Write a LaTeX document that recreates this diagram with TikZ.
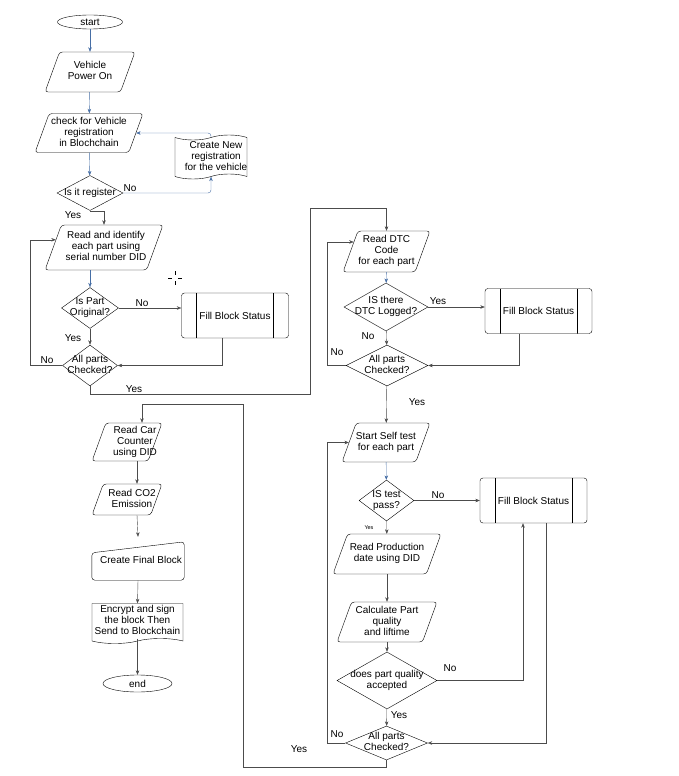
\documentclass[tikz,border=0pt]{standalone}
\usepackage{fontspec}
\setmainfont{Liberation Sans}
\usetikzlibrary{shapes.geometric,shapes.symbols,arrows.meta,calc}
\definecolor{flowblue}{RGB}{70,110,165}
% fixed size text, centred, may run over the shape
\newcommand{\ftext}[2][0pt]{\smash{\makebox[0pt]{\hspace{#1}\hspace{#1}\raisebox{-2.5pt}{\begin{tabular}{@{}c@{}}#2\end{tabular}}}}}
\begin{document}
\begin{tikzpicture}[x=1pt,y=-1pt,>={Stealth[length=4.5pt,width=3.5pt]},
  every node/.style={font=\fontsize{10}{11.2}\selectfont},
  term/.style={ellipse,draw,inner sep=0pt},
  io/.style={trapezium,trapezium left angle=70,trapezium right angle=110,
    trapezium stretches body,draw,rounded corners=3pt,inner sep=0pt,minimum height=#1,
    execute at begin node={\raisebox{-0.5\height}{\rule{0pt}{#1pt}}}},
  decision/.style={diamond,draw,inner sep=0pt},
  subproc/.style={draw,rounded corners=3pt,inner sep=0pt,minimum width=107,minimum height=45,
    path picture={\draw ([xshift=15pt]path picture bounding box.north west) -- ([xshift=15pt]path picture bounding box.south west);
      \draw ([xshift=-15pt]path picture bounding box.north east) -- ([xshift=-15pt]path picture bounding box.south east);}},
  flow/.style={->,draw=black!70},
  blueflow/.style={->,draw=flowblue},
  lbl/.style={inner sep=1pt}]
  \useasboundingbox (0,0) rectangle (679,776);
  % left column
  \draw (90,22) node[term,minimum width=65,minimum height=14] (start) {start};
  \draw (90,72) node[io=40,minimum width=90] (pwr) {\ftext{Vehicle\\Power On}};
  \draw (89,133) node[io=39,minimum width=108] (chk) {\ftext{check for Vehicle\\registration\\in Blochchain}};
  \draw (90,193) node[decision,minimum width=66,minimum height=35] (reg) {\ftext{Is it register}};
  \draw (211,157) node[tape,draw,inner sep=0pt,minimum width=72,minimum height=44] (newreg) {\ftext[5pt]{Create New\\registration\\for the vehicle}};
  \draw (104,247.5) node[io=45,minimum width=118] (rid) {\ftext[2pt]{Read and identify\\each part using\\serial number DID}};
  \draw (90,308) node[decision,minimum width=57,minimum height=41] (orig) {\ftext{Is Part\\Original?}};
  \draw (235,315.5) node[subproc] (fbs1) {Fill Block Status};
  \draw (90,365.5) node[decision,minimum width=55,minimum height=41] (all1) {\ftext{All parts\\Checked?}};
  % right column
  \draw (386.5,251.5) node[io=41,minimum width=87] (dtc) {\ftext{Read DTC\\Code\\for each part}};
  \draw (386,307) node[decision,minimum width=84,minimum height=48] (dtclog) {\ftext{IS there\\DTC Logged?}};
  \draw (538.5,311) node[subproc] (fbs2) {Fill Block Status};
  \draw (387,365.5) node[decision,minimum width=82,minimum height=41] (all2) {\ftext{All parts\\Checked?}};
  \draw (386,442.5) node[io=39,minimum width=88] (self) {\ftext{Start Self test\\for each part}};
  \draw (386.5,500.5) node[decision,minimum width=55,minimum height=41] (pass) {\ftext{IS test\\pass?}};
  \draw (533.5,500.5) node[subproc] (fbs3) {Fill Block Status};
  \draw (387,554) node[io=40,minimum width=108] (prod) {\ftext{Read Production\\date using DID}};
  \draw (387,622) node[io=40,minimum width=100] (calc) {\ftext{Calculate Part\\quality\\and liftime}};
  \draw (387,680.5) node[decision,minimum width=100,minimum height=57] (acc) {\ftext{does part quality\\accepted}};
  \draw (386.5,743) node[decision,minimum width=82,minimum height=34] (all3) {\ftext{All parts\\Checked?}};
  % bottom left column
  \draw (127,442) node[io=38,minimum width=70] (car) {\ftext[8pt]{Read Car\\Counter\\using DID}};
  \draw (127,499.5) node[io=31,minimum width=70] (co2) {\ftext[5pt]{Read CO2\\Emission}};
  \draw (138,561) node[minimum width=92,minimum height=38,inner sep=0pt] (fin) {\ftext[3pt]{Create Final Block}};
  \draw[rounded corners=3pt] ([yshift=-11pt]fin.north west) -- (fin.north east) -- (fin.south east) -- (fin.south west) -- cycle;
  \draw (137.5,621) node[tape,tape bend top=none,draw,inner sep=0pt,minimum width=91,minimum height=40] (enc) {\ftext{Encrypt and sign\\the block Then\\Send to Blockchain}};
  \draw (137.5,683.5) node[term,minimum width=69,minimum height=17] (end) {end};
  %
  % points on the slanted sides and bends
  \coordinate (ridin) at ($(rid.top left corner)!0.33!(rid.bottom left corner)$);
  \coordinate (dtcin) at ($(dtc.top left corner)!0.27!(dtc.bottom left corner)$);
  \coordinate (ya) at (310,394);
  \coordinate (yb) at (310,208);
  \coordinate (yc) at (243,767);
  \coordinate (yd) at (243,404);
  %
  % connectors, left
  \draw[blueflow] (start) -- (pwr);
  \draw[blueflow] (pwr) -- (chk);
  \draw[blueflow] (chk) -- (reg);
  \draw[blueflow,rounded corners=3pt] (reg.east) -| (newreg.south);
  \draw[blueflow,rounded corners=3pt] (newreg.north) |- (chk.right side);
  \draw[flow] (reg.south) -| (rid.north);
  \draw[blueflow] (rid.south -| orig.north) -- (orig.north);
  \draw[flow] (orig.east) -- (orig.east -| fbs1.west);
  \draw[flow] (orig) -- (all1);
  \draw[flow] ([xshift=-13pt]fbs1.south) |- (all1.east);
  \draw[flow] (all1.west) -- ++(-32,0) |- (ridin);
  \draw[flow] (all1.south) |- (ya) -- (yb) -| (dtc.north);
  % connectors, right
  \draw[blueflow] (dtc) -- (dtclog);
  \draw[flow] (dtclog.east) -- (dtclog.east -| fbs2.west);
  \draw[flow] (dtclog) -- (all2);
  \draw[flow] ([xshift=-19.5pt]fbs2.south) |- (all2.east);
  \draw[flow] (all2.west) -- ++(-19,0) |- (dtcin);
  \draw[flow] (all2) -- (self);
  \draw[blueflow] (self) -- (pass);
  \draw[flow] (pass.east) -- (pass.east -| fbs3.west);
  \draw[flow] (pass) -- (prod);
  \draw[flow] (prod) -- (calc);
  \draw[flow] (calc) -- (acc);
  \draw[flow] (acc.east) -| ([xshift=-10.5pt]fbs3.south);
  \draw[flow] (acc) -- (all3);
  \draw[flow] ([xshift=12.5pt]fbs3.south) |- (all3.east);
  \draw[flow] (all3.west) -- ++(-18,0) |- (self.left side);
  \draw[flow] (all3.south) |- (yc) -- (yd) -| ([xshift=15pt]car.north);
  % connectors, bottom left
  \draw[flow] ([xshift=10pt]car.south) -- ([xshift=10pt]co2.north);
  \draw[flow] ([xshift=10pt]co2.south) -- ([yshift=5pt]fin.north);
  \draw[flow] (fin.south) -- (enc.north);
  \draw[flow] (enc.south) -- (end.north);
  %
  % labels
  \draw (130,188) node[lbl] (lno1) {No};
  \draw (73,215) node[lbl] (lyes1) {Yes};
  \draw (142,303) node[lbl] (lno2) {No};
  \draw (73,338) node[lbl] (lyes2) {Yes};
  \draw (47,360) node[lbl] (lno3) {No};
  \draw (134,389) node[lbl] (lyes3) {Yes};
  \draw (438,301) node[lbl] (lyes4) {Yes};
  \draw (368,336) node[lbl] (lno4) {No};
  \draw (337,352) node[lbl] (lno5) {No};
  \draw (417,402) node[lbl] (lyes5) {Yes};
  \draw (438,495) node[lbl] (lno6) {No};
  \draw (369,528) node[lbl,font=\fontsize{5.5}{6}\selectfont] (lyes6) {Yes};
  \draw (450,668) node[lbl] (lno7) {No};
  \draw (399,715) node[lbl] (lyes7) {Yes};
  \draw (337,734) node[lbl] (lno8) {No};
  \draw (299,749) node[lbl] (lyes8) {Yes};
  %
  % cursor mark
  \draw[line width=0.6pt] (168,278) -- (172,278) (178,278) -- (182,278) (175,271) -- (175,275) (175,281) -- (175,285);
\end{tikzpicture}
\end{document}
